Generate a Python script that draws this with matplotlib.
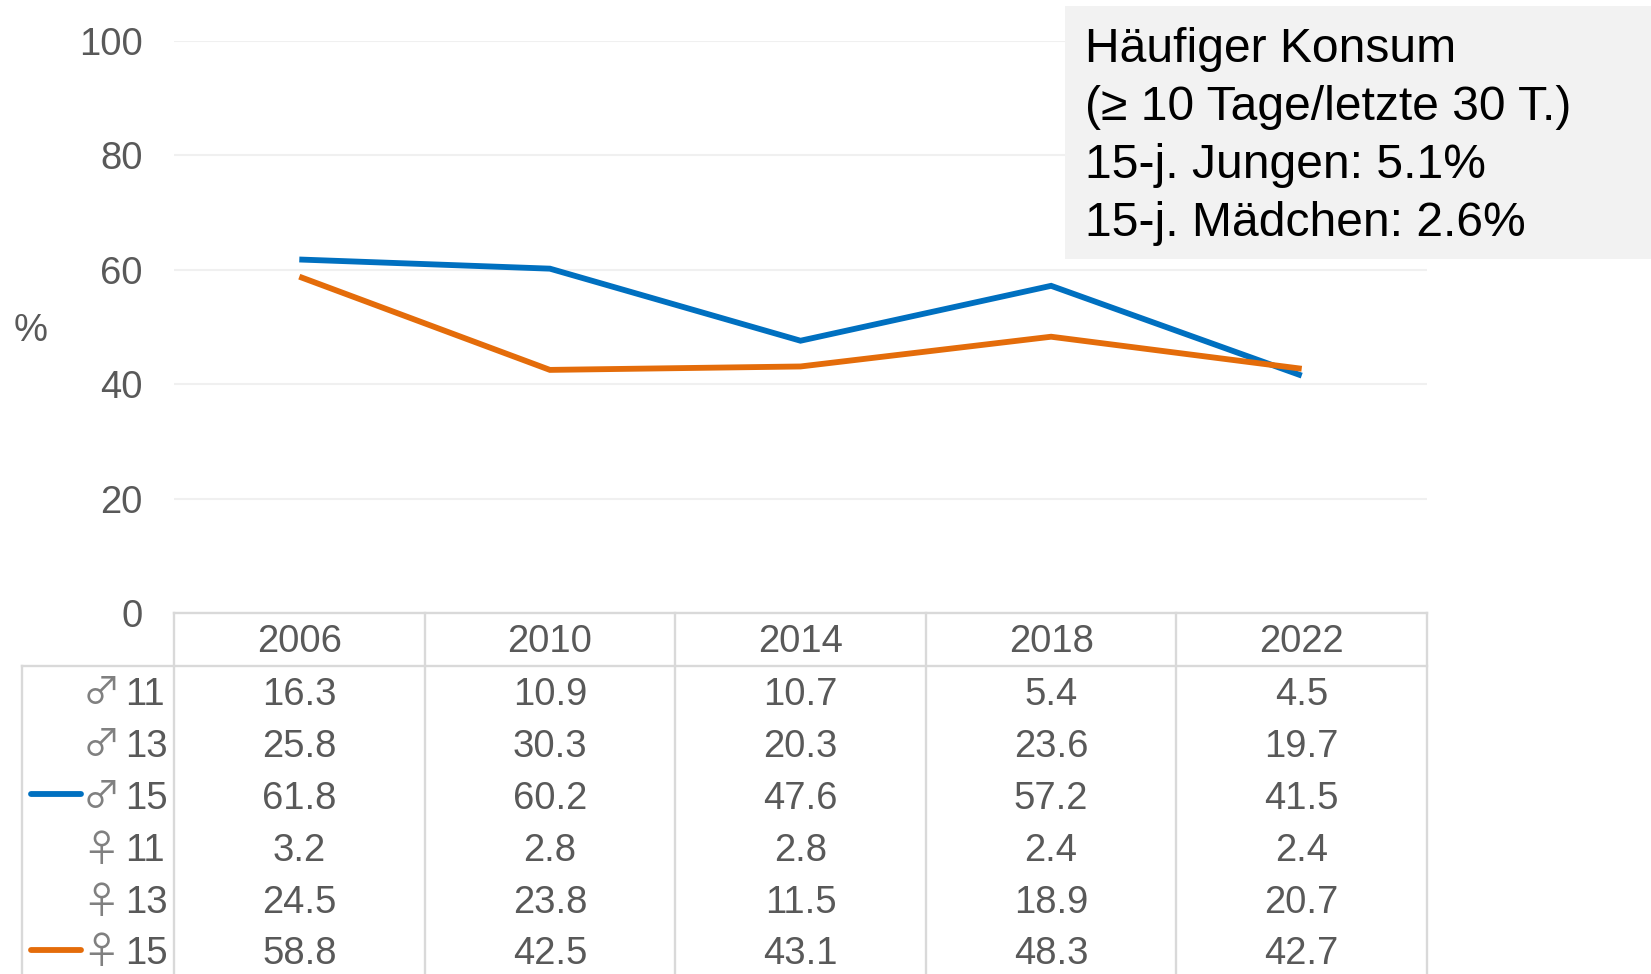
import matplotlib
matplotlib.use('Agg')
import matplotlib.pyplot as plt
import matplotlib.patches as patches

W = 1651
H = 974

years = ['2006', '2010', '2014', '2018', '2022']
row_symbols = ['♂', '♂', '♂', '♀', '♀', '♀']
row_ages = ['11', '13', '15', '11', '13', '15']
boys_11 = [16.3, 10.9, 10.7, 5.4, 4.5]
boys_13 = [25.8, 30.3, 20.3, 23.6, 19.7]
boys_15 = [61.8, 60.2, 47.6, 57.2, 41.5]
girls_11 = [3.2, 2.8, 2.8, 2.4, 2.4]
girls_13 = [24.5, 23.8, 11.5, 18.9, 20.7]
girls_15 = [58.8, 42.5, 43.1, 48.3, 42.7]
yticks = [0, 20, 40, 60, 80, 100]
box_lines = ['Häufiger Konsum', '(≥ 10 Tage/letzte 30 T.)',
             '15-j. Jungen: 5.1%', '15-j. Mädchen: 2.6%']

BLUE = '#0070C0'
ORANGE = '#E46C0A'
GREY = '#595959'
GRID = '#F0F0F0'
TABLE = '#D9D9D9'
FS = 27.5

plt.rcParams['font.family'] = ['Liberation Sans', 'DejaVu Sans']

fig = plt.figure(figsize=(W / 100, H / 100), dpi=100)

# chart area, pixels: x 174-1427, y 41-613
left, right, top, bottom = 174, 1427, 41, 613
ax = fig.add_axes([left / W, 1 - bottom / H, (right - left) / W, (bottom - top) / H])
ax.set_xlim(-0.5, 4.5)
ax.set_ylim(0, 100)
for s in ax.spines.values():
    s.set_visible(False)
ax.set_xticks([])
ax.set_yticks(yticks)
ax.tick_params(axis='y', length=0, pad=22.5, labelsize=FS, labelcolor=GREY)
ax.grid(axis='y', color=GRID, lw=1.5)
ax.set_axisbelow(True)

xs = range(len(years))
ax.plot(xs, boys_15, color=BLUE, lw=4.2, solid_capstyle='butt', solid_joinstyle='miter')
ax.plot(xs, girls_15, color=ORANGE, lw=4.2, solid_capstyle='butt', solid_joinstyle='miter')

# overlay in pixel coordinates for table, box and % label
ov = fig.add_axes([0, 0, 1, 1], facecolor='none')
ov.set_xlim(0, W)
ov.set_ylim(H, 0)
ov.axis('off')

ov.text(31, 331, '%', fontsize=FS, color=GREY, ha='center', va='center')

ov.add_patch(patches.Rectangle((1065, 6), W - 1065, 253, facecolor='#F2F2F2', edgecolor='none'))
for i, line in enumerate(box_lines):
    ov.text(1085, 50 + i * 57.7, line, fontsize=34.6, color='black', ha='left', va='center')

# table frame
col_w = (right - left) / len(years)
header_top, header_bot = 613, 666
ov.plot([left, right], [header_top, header_top], color=TABLE, lw=1.7)
ov.plot([22, right], [header_bot, header_bot], color=TABLE, lw=1.7)
ov.plot([22, 22], [header_bot, H], color=TABLE, lw=1.7)
for i in range(len(years) + 1):
    ov.plot([left + i * col_w] * 2, [header_top, H], color=TABLE, lw=1.7)

for i, y in enumerate(years):
    ov.text(left + (i + 0.5) * col_w, 642, y, fontsize=FS, color=GREY, ha='center', va='center')

rows = [boys_11, boys_13, boys_15, girls_11, girls_13, girls_15]
row_y = [695, 747, 799, 851, 903, 954]
for r, vals in enumerate(rows):
    yy = row_y[r]
    ov.text(101, yy - 1, row_symbols[r], fontsize=27, color='#808080', ha='center', va='center',
            family=['Noto Sans CJK JP', 'DejaVu Sans'])
    ov.text(125, yy, row_ages[r], fontsize=FS, color=GREY, ha='left', va='center')
    for c, v in enumerate(vals):
        ov.text(left + (c + 0.5) * col_w, yy, f'{v:.1f}', fontsize=FS, color=GREY, ha='center', va='center')

# legend keys
ov.plot([31, 81], [794, 794], color=BLUE, lw=4.2, solid_capstyle='round')
ov.plot([31, 81], [950, 950], color=ORANGE, lw=4.2, solid_capstyle='round')

fig.savefig('out.png', dpi=100)
